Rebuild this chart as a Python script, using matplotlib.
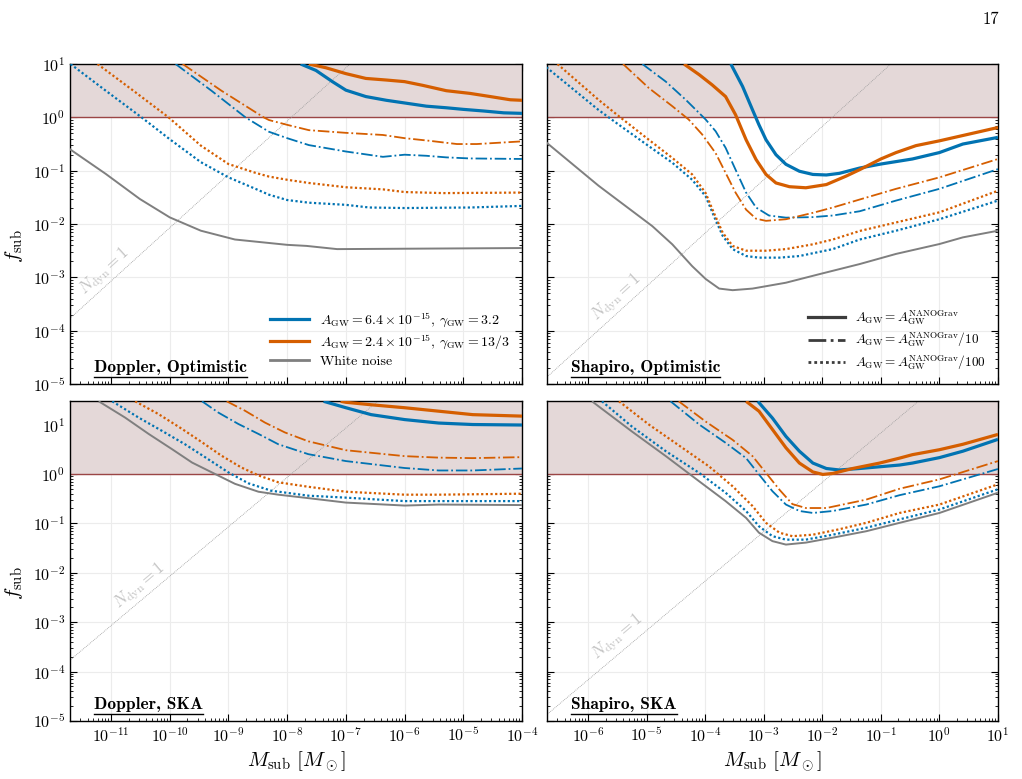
import numpy as np
import matplotlib
matplotlib.use("Agg")
import matplotlib.pyplot as plt
from matplotlib.lines import Line2D
from matplotlib.ticker import FixedLocator, LogLocator, NullFormatter

plt.rcParams['font.family'] = 'cmr10'
plt.rcParams['mathtext.fontset'] = 'cm'
plt.rcParams['axes.formatter.use_mathtext'] = True
plt.rcParams['axes.unicode_minus'] = False

BLUE = '#0173b2'
ORANGE = '#d55e00'
GRAY = '#7f7f7f'

# curves as (log10 M_sub, log10 f_sub)
# --- Doppler, Optimistic
do_blue_solid = [(-7.77, 1.0), (-7.51, 0.88), (-7.23, 0.67), (-7.0, 0.51), (-6.66, 0.39), (-6.31, 0.32),
                 (-6.0, 0.27), (-5.63, 0.21), (-5.29, 0.18), (-5.0, 0.15), (-4.66, 0.12), (-4.31, 0.085),
                 (-4.0, 0.075)]
do_orange_solid = [(-7.63, 1.0), (-7.34, 0.93), (-7.0, 0.82), (-6.66, 0.73), (-6.31, 0.70), (-6.0, 0.67),
                   (-5.69, 0.60), (-5.29, 0.50), (-4.89, 0.45), (-4.54, 0.39), (-4.2, 0.33), (-4.0, 0.32)]
do_blue_dashdot = [(-9.90, 1.0), (-9.29, 0.5), (-8.71, 0.0), (-8.31, -0.27), (-8.0, -0.39), (-7.63, -0.52),
                   (-7.0, -0.64), (-6.37, -0.74), (-6.0, -0.70), (-5.63, -0.72), (-5.29, -0.75), (-4.89, -0.77),
                   (-4.0, -0.78)]
do_orange_dashdot = [(-9.78, 1.0), (-9.12, 0.5), (-8.40, 0.0), (-8.31, -0.05), (-8.0, -0.14), (-7.63, -0.24),
                     (-7.0, -0.29), (-6.37, -0.33), (-6.0, -0.39), (-5.57, -0.44), (-5.11, -0.50),
                     (-4.77, -0.50), (-4.0, -0.45)]
do_blue_dotted = [(-11.69, 1.0), (-11.09, 0.5), (-10.48, 0.0), (-10.0, -0.41), (-9.47, -0.84), (-9.0, -1.125),
                  (-8.54, -1.34), (-8.31, -1.45), (-8.0, -1.55), (-7.63, -1.60), (-7.0, -1.64), (-6.6, -1.69),
                  (-6.0, -1.70), (-4.89, -1.69), (-4.0, -1.66)]
do_orange_dotted = [(-11.23, 1.0), (-10.62, 0.5), (-10.02, 0.0), (-9.47, -0.53), (-9.0, -0.875), (-8.54, -1.04),
                    (-8.31, -1.11), (-8.0, -1.17), (-7.63, -1.23), (-7.0, -1.31), (-6.37, -1.35), (-6.0, -1.40),
                    (-5.34, -1.42), (-4.0, -1.41)]
do_gray = [(-11.71, -0.59), (-11.09, -1.06), (-10.51, -1.53), (-10.0, -1.875), (-9.47, -2.125), (-8.89, -2.29),
           (-8.0, -2.39), (-7.67, -2.41), (-7.15, -2.47), (-4.0, -2.45)]

# --- Shapiro, Optimistic
so_blue_solid = [(-3.56, 1.0), (-3.36, 0.58), (-3.19, 0.14), (-3.08, -0.14), (-2.96, -0.42), (-2.79, -0.70),
                 (-2.62, -0.88), (-2.39, -1.01), (-2.16, -1.07), (-1.93, -1.08), (-1.71, -1.05), (-1.36, -0.95),
                 (-1.0, -0.875), (-0.46, -0.78), (0.0, -0.66), (0.4, -0.5), (1.0, -0.375)]
so_orange_solid = [(-4.36, 1.0), (-4.10, 0.80), (-3.88, 0.61), (-3.65, 0.39), (-3.48, 0.05), (-3.30, -0.42),
                   (-3.13, -0.79), (-2.96, -1.07), (-2.79, -1.23), (-2.56, -1.30), (-2.28, -1.32),
                   (-1.93, -1.26), (-1.59, -1.10), (-1.36, -0.98), (-1.0, -0.78), (-0.74, -0.66),
                   (-0.4, -0.53), (0.0, -0.44), (0.4, -0.34), (1.0, -0.19)]
so_blue_dashdot = [(-5.07, 1.0), (-4.67, 0.67), (-4.33, 0.33), (-3.99, -0.04), (-3.82, -0.26), (-3.65, -0.57),
                   (-3.48, -0.98), (-3.30, -1.41), (-3.13, -1.69), (-2.91, -1.84), (-2.62, -1.88),
                   (-2.16, -1.87), (-1.82, -1.84), (-1.36, -1.76), (-0.74, -1.56), (0.0, -1.34), (1.0, -0.97)]
so_orange_dashdot = [(-5.40, 1.0), (-4.96, 0.55), (-4.56, 0.21), (-4.28, -0.04), (-4.05, -0.32), (-3.82, -0.67),
                     (-3.65, -1.04), (-3.48, -1.41), (-3.30, -1.73), (-3.13, -1.90), (-2.96, -1.94),
                     (-2.62, -1.91), (-2.16, -1.79), (-1.82, -1.69), (-1.36, -1.54), (-0.74, -1.34),
                     (0.0, -1.125), (1.0, -0.78)]
so_blue_dotted = [(-6.71, 0.94), (-5.82, 0.14), (-5.47, -0.14), (-4.96, -0.54), (-4.56, -0.85), (-4.22, -1.17),
                  (-3.99, -1.48), (-3.85, -1.85), (-3.70, -2.22), (-3.53, -2.47), (-3.30, -2.60),
                  (-3.08, -2.63), (-2.73, -2.63), (-2.39, -2.60), (-1.82, -2.47), (-1.36, -2.29),
                  (-0.74, -2.125), (0.0, -1.91), (1.0, -1.56)]
so_orange_dotted = [(-6.52, 1.0), (-5.82, 0.33), (-5.47, 0.02), (-4.96, -0.42), (-4.56, -0.76), (-4.22, -1.07),
                    (-3.99, -1.42), (-3.85, -1.79), (-3.70, -2.16), (-3.53, -2.41), (-3.30, -2.50),
                    (-2.96, -2.50), (-2.62, -2.47), (-2.16, -2.38), (-1.82, -2.29), (-1.36, -2.13),
                    (-0.74, -1.97), (0.0, -1.78), (1.0, -1.375)]
so_gray = [(-6.71, -0.47), (-5.82, -1.28), (-5.36, -1.66), (-4.90, -2.04), (-4.56, -2.38), (-4.22, -2.79),
           (-3.99, -3.03), (-3.76, -3.21), (-3.53, -3.24), (-3.19, -3.21), (-2.62, -3.10), (-2.05, -2.94),
           (-1.36, -2.75), (-0.74, -2.56), (0.0, -2.375), (0.4, -2.25), (1.0, -2.125)]

# --- Doppler, SKA
ds_blue_solid = [(-7.38, 1.47), (-7.0, 1.34), (-6.57, 1.2), (-6.0, 1.1), (-5.42, 1.03), (-4.84, 1.0), (-4.0, 0.99)]
ds_orange_solid = [(-7.09, 1.47), (-7.0, 1.45), (-6.57, 1.4), (-6.0, 1.34), (-5.42, 1.27), (-4.84, 1.2),
                   (-4.0, 1.17)]
ds_blue_dashdot = [(-9.45, 1.47), (-9.17, 1.24), (-8.83, 1.01), (-8.49, 0.81), (-8.15, 0.60), (-7.64, 0.40),
                   (-7.0, 0.26), (-6.0, 0.12), (-5.42, 0.07), (-4.84, 0.07), (-4.0, 0.11)]
ds_orange_dashdot = [(-9.03, 1.47), (-8.72, 1.28), (-8.38, 1.04), (-8.04, 0.84), (-7.64, 0.66), (-7.0, 0.48),
                     (-6.0, 0.36), (-5.42, 0.33), (-4.84, 0.32), (-4.0, 0.34)]
ds_blue_dotted = [(-10.98, 1.47), (-10.53, 1.14), (-10.13, 0.87), (-9.74, 0.60), (-9.40, 0.34), (-9.0, 0.03),
                  (-8.66, -0.19), (-8.27, -0.34), (-7.64, -0.44), (-7.0, -0.48), (-6.0, -0.55), (-4.0, -0.55)]
ds_orange_dotted = [(-10.59, 1.47), (-10.19, 1.21), (-9.79, 0.91), (-9.45, 0.64), (-9.12, 0.37), (-8.78, 0.13),
                    (-8.49, -0.03), (-8.15, -0.17), (-7.64, -0.26), (-7.0, -0.36), (-6.0, -0.42),
                    (-5.42, -0.42), (-4.0, -0.40)]
ds_gray = [(-11.21, 1.47), (-10.76, 1.14), (-10.36, 0.81), (-9.96, 0.50), (-9.62, 0.23), (-9.23, 0.0),
           (-8.89, -0.20), (-8.49, -0.36), (-8.15, -0.42), (-7.64, -0.49), (-7.0, -0.58), (-6.0, -0.64),
           (-5.42, -0.62), (-4.0, -0.63)]

# --- Shapiro, SKA
ss_blue_solid = [(-3.10, 1.47), (-2.85, 1.13), (-2.62, 0.76), (-2.39, 0.46), (-2.16, 0.22), (-1.93, 0.11),
                 (-1.71, 0.08), (-1.36, 0.11), (-0.68, 0.18), (-0.46, 0.22), (0.0, 0.33), (0.4, 0.46),
                 (1.0, 0.7)]
ss_orange_solid = [(-3.30, 1.47), (-3.08, 1.27), (-2.85, 0.9), (-2.62, 0.53), (-2.39, 0.22), (-2.16, 0.04),
                   (-1.99, -0.01), (-1.82, 0.01), (-1.48, 0.11), (-1.02, 0.22), (-0.68, 0.32), (-0.46, 0.39),
                   (0.0, 0.49), (0.4, 0.6), (1.0, 0.8)]
ss_blue_dashdot = [(-4.59, 1.47), (-4.10, 1.0), (-3.65, 0.63), (-3.30, 0.32), (-3.08, -0.01), (-2.85, -0.35),
                   (-2.62, -0.62), (-2.39, -0.75), (-2.16, -0.79), (-1.82, -0.75), (-1.25, -0.62),
                   (-0.68, -0.43), (0.0, -0.25), (1.0, 0.10)]
ss_orange_dashdot = [(-4.45, 1.47), (-3.99, 1.06), (-3.53, 0.69), (-3.19, 0.36), (-2.96, 0.02), (-2.73, -0.32),
                     (-2.51, -0.61), (-2.28, -0.69), (-1.93, -0.69), (-1.25, -0.52), (-0.68, -0.30),
                     (0.0, -0.11), (1.0, 0.26)]
ss_blue_dotted = [(-5.76, 1.47), (-5.25, 0.96), (-4.67, 0.46), (-4.10, 0.02), (-3.65, -0.38), (-3.30, -0.75),
                  (-3.08, -1.06), (-2.85, -1.26), (-2.62, -1.33), (-2.28, -1.33), (-1.82, -1.23),
                  (-1.25, -1.09), (-0.68, -0.92), (0.0, -0.72), (1.0, -0.31)]
ss_orange_dotted = [(-5.47, 1.47), (-4.96, 1.0), (-4.39, 0.53), (-3.93, 0.15), (-3.53, -0.25), (-3.19, -0.65),
                    (-2.96, -0.99), (-2.73, -1.19), (-2.51, -1.26), (-2.16, -1.23), (-1.71, -1.12),
                    (-1.25, -0.99), (-0.68, -0.79), (0.0, -0.62), (1.0, -0.21)]
ss_gray = [(-5.93, 1.47), (-5.82, 1.37), (-5.25, 0.86), (-4.67, 0.36), (-4.10, -0.15), (-3.65, -0.55),
           (-3.30, -0.89), (-3.08, -1.19), (-2.85, -1.36), (-2.62, -1.43), (-2.28, -1.39), (-1.82, -1.29),
           (-1.25, -1.16), (-0.68, -0.99), (0.0, -0.79), (1.0, -0.38)]

# N_dyn = 1 lines (endpoints, log10)
ndyn_doppler = [(-12.0, -4.07), (-4.0, 3.93)]
ndyn_shapiro = [(-7.0, -5.17), (1.0, 2.83)]

xlim_doppler = (2e-12, 1e-4)
xlim_shapiro = (2e-7, 10)
ylim_top = (1e-5, 10)
ylim_bot = (1e-5, 30)
xticks_doppler = [10.0**k for k in range(-11, -3)]
xticks_shapiro = [10.0**k for k in range(-6, 2)]
yticks = [10.0**k for k in range(-5, 2)]

panels = [
    dict(pos=[0.0685, 0.507, 0.4423, 0.4108], xlim=xlim_doppler, xt=xticks_doppler, ylim=ylim_top,
         label='Doppler, Optimistic',
         curves=[do_gray, do_blue_dotted, do_orange_dotted, do_blue_dashdot, do_orange_dashdot,
                 do_blue_solid, do_orange_solid], ndyn=ndyn_doppler, ndyn_txt=(0.077, 0.35, 42.4)),
    dict(pos=[0.5352, 0.507, 0.4413, 0.4108], xlim=xlim_shapiro, xt=xticks_shapiro, ylim=ylim_top,
         label='Shapiro, Optimistic',
         curves=[so_gray, so_blue_dotted, so_orange_dotted, so_blue_dashdot, so_orange_dashdot,
                 so_blue_solid, so_orange_solid], ndyn=ndyn_shapiro, ndyn_txt=(0.155, 0.27, 42.4)),
    dict(pos=[0.0685, 0.0745, 0.4423, 0.4108], xlim=xlim_doppler, xt=xticks_doppler, ylim=ylim_bot,
         label='Doppler, SKA',
         curves=[ds_gray, ds_blue_dotted, ds_orange_dotted, ds_blue_dashdot, ds_orange_dashdot,
                 ds_blue_solid, ds_orange_solid], ndyn=ndyn_doppler, ndyn_txt=(0.155, 0.42, 40.2)),
    dict(pos=[0.5352, 0.0745, 0.4413, 0.4108], xlim=xlim_shapiro, xt=xticks_shapiro, ylim=ylim_bot,
         label='Shapiro, SKA',
         curves=[ss_gray, ss_blue_dotted, ss_orange_dotted, ss_blue_dashdot, ss_orange_dashdot,
                 ss_blue_solid, ss_orange_solid], ndyn=ndyn_shapiro, ndyn_txt=(0.157, 0.26, 40.2)),
]

styles = [
    dict(color=GRAY, lw=1.4, ls='-'),
    dict(color=BLUE, lw=1.6, ls=(0, (1, 1.1))),
    dict(color=ORANGE, lw=1.6, ls=(0, (1, 1.1))),
    dict(color=BLUE, lw=1.3, ls='-.'),
    dict(color=ORANGE, lw=1.3, ls='-.'),
    dict(color=BLUE, lw=2.3, ls='-'),
    dict(color=ORANGE, lw=2.3, ls='-'),
]

fig = plt.figure(figsize=(10.22, 7.79), dpi=100)
axs = []
labels = []
for i, p in enumerate(panels):
    ax = fig.add_axes(p['pos'])
    ax.set_xscale('log')
    ax.set_yscale('log')
    ax.axhspan(1, 1e3, color='#e4d8d8', lw=0, zorder=1)
    ax.axhline(1, color='#9b4545', lw=1.0, zorder=1.5)
    nd = np.array(p['ndyn'])
    ax.plot(10**nd[:, 0], 10**nd[:, 1], color='#9a9a9a', lw=0.6, ls=(0, (1, 1.2)), zorder=1.6)
    tx, ty, rot = p['ndyn_txt']
    ax.text(tx, ty, r'$N_{\rm dyn} = 1$', transform=ax.transAxes, rotation=rot, color='#c2c2c2',
            fontsize=12, ha='center', va='center', rotation_mode='anchor')
    for pts, st in zip(p['curves'], styles):
        a = np.array(pts)
        ax.plot(10**a[:, 0], 10**a[:, 1], zorder=3, solid_capstyle='butt', **st)
    ax.grid(True, which='major', color='#ececec', lw=0.8)
    ax.set_axisbelow(True)
    ax.xaxis.set_major_locator(FixedLocator(p['xt']))
    ax.xaxis.set_minor_locator(LogLocator(base=10, subs=np.arange(2, 10), numticks=100))
    ax.xaxis.set_minor_formatter(NullFormatter())
    ax.yaxis.set_major_locator(FixedLocator(yticks))
    ax.yaxis.set_minor_locator(LogLocator(base=10, subs=np.arange(2, 10), numticks=100))
    ax.yaxis.set_minor_formatter(NullFormatter())
    ax.set_xlim(*p['xlim'])
    ax.set_ylim(*p['ylim'])
    ax.tick_params(which='both', direction='in', top=True, right=True, labelsize=11.5)
    ax.tick_params(which='major', length=5, width=0.8)
    ax.tick_params(which='minor', length=2.5, width=0.6)
    for s in ax.spines.values():
        s.set_linewidth(1.0)
    if i % 2 == 1:
        ax.tick_params(labelleft=False)
    else:
        ax.set_ylabel(r'$f_{\rm sub}$', fontsize=15)
        ax.yaxis.set_label_coords(-0.1, 0.43)
    if i < 2:
        ax.tick_params(labelbottom=False)
    else:
        ax.set_xlabel(r'$M_{\rm sub}\ [M_\odot]$', fontsize=15)
    t = ax.text(0.053, 0.037, p['label'], transform=ax.transAxes, fontfamily='cmb10', fontsize=12.5,
                ha='left', va='baseline', zorder=5)
    axs.append(ax)
    labels.append(t)

# legends
h1 = [Line2D([], [], color=BLUE, lw=2.3), Line2D([], [], color=ORANGE, lw=2.3), Line2D([], [], color=GRAY, lw=2.0)]
l1 = [r'$A_{\rm GW} = 6.4 \times 10^{-15}$, $\gamma_{\rm GW} = 3.2$',
      r'$A_{\rm GW} = 2.4 \times 10^{-15}$, $\gamma_{\rm GW} = 13/3$',
      'White noise']
axs[0].legend(h1, l1, loc='lower right', bbox_to_anchor=(1.0, 0.01), frameon=False, fontsize=10,
              handlelength=2.8, handletextpad=0.8, labelspacing=0.3)

h2 = [Line2D([], [], color='#3c3c3c', lw=2.3, ls='-'), Line2D([], [], color='#3c3c3c', lw=2.0, ls='-.'),
      Line2D([], [], color='#3c3c3c', lw=2.0, ls=(0, (1, 1.1)))]
l2 = [r'$A_{\rm GW} = A_{\rm GW}^{\rm NANOGrav}$',
      r'$A_{\rm GW} = A_{\rm GW}^{\rm NANOGrav}/10$',
      r'$A_{\rm GW} = A_{\rm GW}^{\rm NANOGrav}/100$']
axs[1].legend(h2, l2, loc='lower right', bbox_to_anchor=(1.0, 0.0), frameon=False, fontsize=9.5,
              handlelength=2.8, handletextpad=0.8, labelspacing=0.3)

fig.text(0.978, 0.985, '17', ha='right', va='top', fontsize=12)

# underline the panel labels
fig.canvas.draw()
r = fig.canvas.get_renderer()
for ax, t in zip(axs, labels):
    bb = t.get_window_extent(r)
    inv = ax.transAxes.inverted()
    (x0, y0), (x1, _) = inv.transform([[bb.x0, bb.y0 - 1.5], [bb.x1, bb.y0]])
    ax.plot([x0, x1], [y0, y0], transform=ax.transAxes, color='black', lw=1.0, clip_on=False, zorder=5)

plt.savefig('out.png', dpi=100)
